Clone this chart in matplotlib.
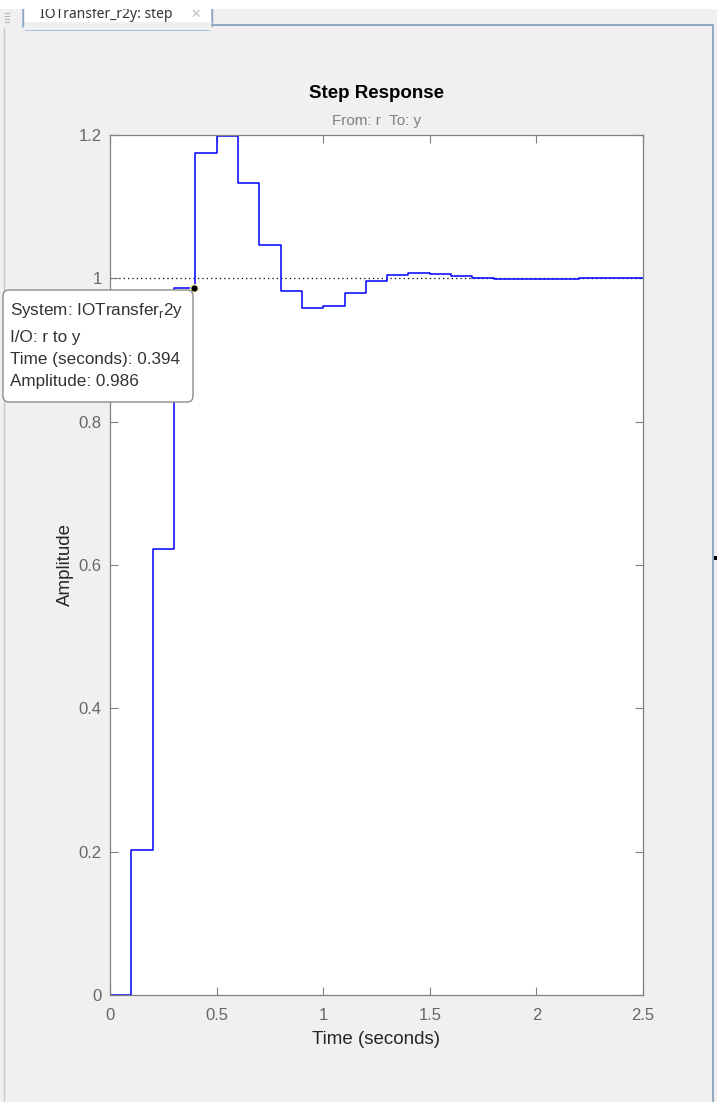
import matplotlib
matplotlib.use("Agg")
import matplotlib.pyplot as plt
from matplotlib.patches import Rectangle, FancyBboxPatch
from matplotlib.lines import Line2D

plt.rcParams['font.family'] = ['Liberation Sans', 'DejaVu Sans']

# step response samples (Ts = 0.1 s)
times = [0.0, 0.1, 0.2, 0.3, 0.4, 0.5, 0.6, 0.7, 0.8, 0.9, 1.0, 1.1, 1.2,
         1.3, 1.4, 1.5, 1.6, 1.7, 1.8, 1.9, 2.0, 2.1, 2.2, 2.3, 2.4, 2.5]
amplitude = [0.0, 0.203, 0.623, 0.986, 1.175, 1.199, 1.133, 1.047, 0.983,
             0.959, 0.962, 0.979, 0.996, 1.005, 1.008, 1.006, 1.003, 1.001,
             0.999, 0.999, 0.999, 0.999, 1.000, 1.000, 1.000, 1.000]
xticks = [0, 0.5, 1, 1.5, 2, 2.5]
xtick_labels = ['0', '0.5', '1', '1.5', '2', '2.5']
yticks = [0, 0.2, 0.4, 0.6, 0.8, 1.0, 1.2]
ytick_labels = ['0', '0.2', '0.4', '0.6', '0.8', '1', '1.2']
tip_time = 0.394
tip_amp = 0.986
tip_lines = ['System: IOTransfer$_\\mathregular{r}$2y', 'I/O: r to y',
             'Time (seconds): 0.394', 'Amplitude: 0.986']

W, H = 717, 1102
fig = plt.figure(figsize=(W / 100, H / 100), dpi=100, facecolor='#f0f0f0')


def inch(x, y):
    # image pixel (top-left origin) -> figure inches
    return x / 100.0, (H - y) / 100.0


def rect(x0, y0, x1, y1, **kw):
    p = Rectangle(inch(x0, y1), (x1 - x0) / 100.0, (y1 - y0) / 100.0,
                  transform=fig.dpi_scale_trans, **kw)
    fig.add_artist(p)
    return p


def line(xs, ys, **kw):
    pts = [inch(x, y) for x, y in zip(xs, ys)]
    l = Line2D([p[0] for p in pts], [p[1] for p in pts],
               transform=fig.dpi_scale_trans, **kw)
    fig.add_artist(l)


# window chrome: tab (top clipped by white strip), panel borders
tab = FancyBboxPatch(inch(23, 30), 189 / 100.0, 26 / 100.0,
                     boxstyle='round,pad=0,rounding_size=0.04',
                     transform=fig.dpi_scale_trans, facecolor='white',
                     edgecolor='#8fa8c8', lw=1.0)
fig.add_artist(tab)
rect(23, 22, 213, 30, facecolor='#f0f0f0', edgecolor='none')
line([23, 23], [8, 26], color='#8fa8c8', lw=1.0)
line([212, 212], [8, 26], color='#8fa8c8', lw=1.0)
line([212, 713, 713], [25, 25, H], color='#7f9db9', lw=1.2)
line([4, 4], [28, H], color='#c8c8c8', lw=1.0)
for gy in [13, 16, 19, 22]:
    line([5, 9], [gy, gy], color='#b8b8b8', lw=0.8)
fig.text(40 / W, 1 - 15 / H, 'IOTransfer_r2y: step', fontsize=10,
         color='#333333', family=['Noto Sans', 'DejaVu Sans'],
         va='center', ha='left')
fig.text(196 / W, 1 - 14 / H, '\u2715', fontsize=9, color='#c0c0c0',
         family='DejaVu Sans', va='center', ha='center')
rect(0, 0, W, 9, facecolor='white', edgecolor='none', zorder=10)
rect(714, 556, 717, 560, facecolor='black', edgecolor='none')

# axes
left, right, top, bottom = 110, 643, 135, 995
ax = fig.add_axes([left / W, 1 - bottom / H, (right - left) / W, (bottom - top) / H])
ax.set_facecolor('white')
ax.axhline(1.0, color='black', ls=(0, (1, 2.5)), lw=0.9, zorder=1)
ax.plot(times, amplitude, drawstyle='steps-post', color='#0000ff', lw=1.1, zorder=2)
ax.set_xlim(0, 2.5)
ax.set_ylim(0, 1.2)
ax.set_xticks(xticks)
ax.set_xticklabels(xtick_labels)
ax.set_yticks(yticks)
ax.set_yticklabels(ytick_labels)
ax.tick_params(direction='in', top=True, right=True, length=6, width=0.8,
               color='#808080', labelcolor='#666666', labelsize=12, pad=6)
ax.tick_params(axis='x', pad=9)
for s in ax.spines.values():
    s.set_color('#808080')
    s.set_linewidth(0.9)
ax.set_xlabel('Time (seconds)', fontsize=13.5, color='#262626', labelpad=6)
ax.set_ylabel('Amplitude', fontsize=13.5, color='#262626', labelpad=3)
fig.text((left + right) / 2 / W, 1 - 94 / H, 'Step Response', fontsize=13.5,
         fontweight='bold', color='black', ha='center', va='center')
fig.text((left + right) / 2 / W, 1 - 121 / H, 'From: r  To: y', fontsize=11,
         color='#808080', ha='center', va='center')

# data tip
ax.plot([tip_time], [tip_amp], marker='o', ms=5.5, mfc='black', mec='#f4f0b0',
        mew=1.0, clip_on=False, zorder=6)
tip = FancyBboxPatch(inch(3, 402), 190 / 100.0, 112 / 100.0,
                     boxstyle='round,pad=0,rounding_size=0.06',
                     transform=fig.dpi_scale_trans, facecolor='white',
                     edgecolor='#8c8c8c', lw=1.0, zorder=5)
fig.add_artist(tip)
for txt, yy in zip(tip_lines, [310, 338, 360, 382]):
    fig.text(10 / W, 1 - yy / H, txt, fontsize=12.3, color='#333333',
             ha='left', va='center', zorder=7)

fig.savefig('out.png', dpi=100, facecolor=fig.get_facecolor())
